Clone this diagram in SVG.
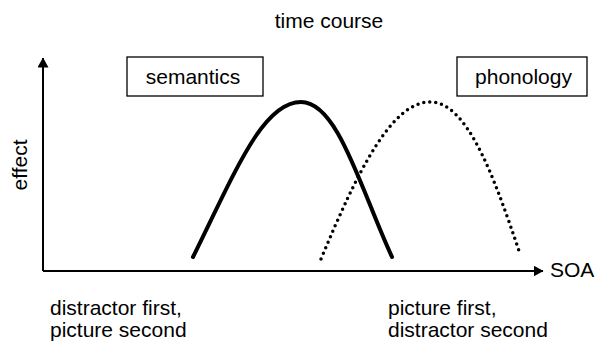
<svg xmlns="http://www.w3.org/2000/svg" width="597" height="342" viewBox="0 0 597 342">
<style>
text{font-family:"Liberation Sans",Arial,sans-serif;font-size:21px;fill:#000}
.box{fill:#fff;stroke:#000;stroke-width:1.3}
.ax{stroke:#000;stroke-width:2;fill:none}
</style>
<defs>
<marker id="ah" viewBox="0 0 10 11" refX="9.5" refY="5.5" markerWidth="10" markerHeight="11" markerUnits="userSpaceOnUse" orient="auto"><path d="M0,0 L10,5.5 L0,11 z" fill="#000"/></marker>
</defs>
<rect width="597" height="342" fill="#fff"/>
<text x="329" y="28" text-anchor="middle">time course</text>
<g id="connectors">
<path class="ax" d="M43,271 V58" marker-end="url(#ah)"/>
<path class="ax" d="M43,271 H543" marker-end="url(#ah)"/>
<path d="M193,257 C236,170 263,102 301,102 C338,102 361,190 392,257" fill="none" stroke="#000" stroke-width="4" stroke-linecap="round"/>
<path d="M321,259 C358,170 392,102 430,102 C466,102 492,170 520,254" fill="none" stroke="#000" stroke-width="3.5" stroke-linecap="round" stroke-dasharray="0 6"/>
</g>
<g id="semantics"><rect class="box" x="127" y="57" width="136" height="39"/><text x="193" y="84" text-anchor="middle">semantics</text></g>
<g id="phonology"><rect class="box" x="457" y="57" width="130" height="39"/><text x="523.5" y="84" text-anchor="middle">phonology</text></g>
<g id="effect"><text transform="translate(27,165) rotate(-90)" text-anchor="middle">effect</text></g>
<g id="soa"><text x="550" y="277">SOA</text></g>
<g id="left-label"><text x="50" y="315">distractor first,</text><text x="50" y="337">picture second</text></g>
<g id="right-label"><text x="388" y="315">picture first,</text><text x="388" y="337">distractor second</text></g>
</svg>
